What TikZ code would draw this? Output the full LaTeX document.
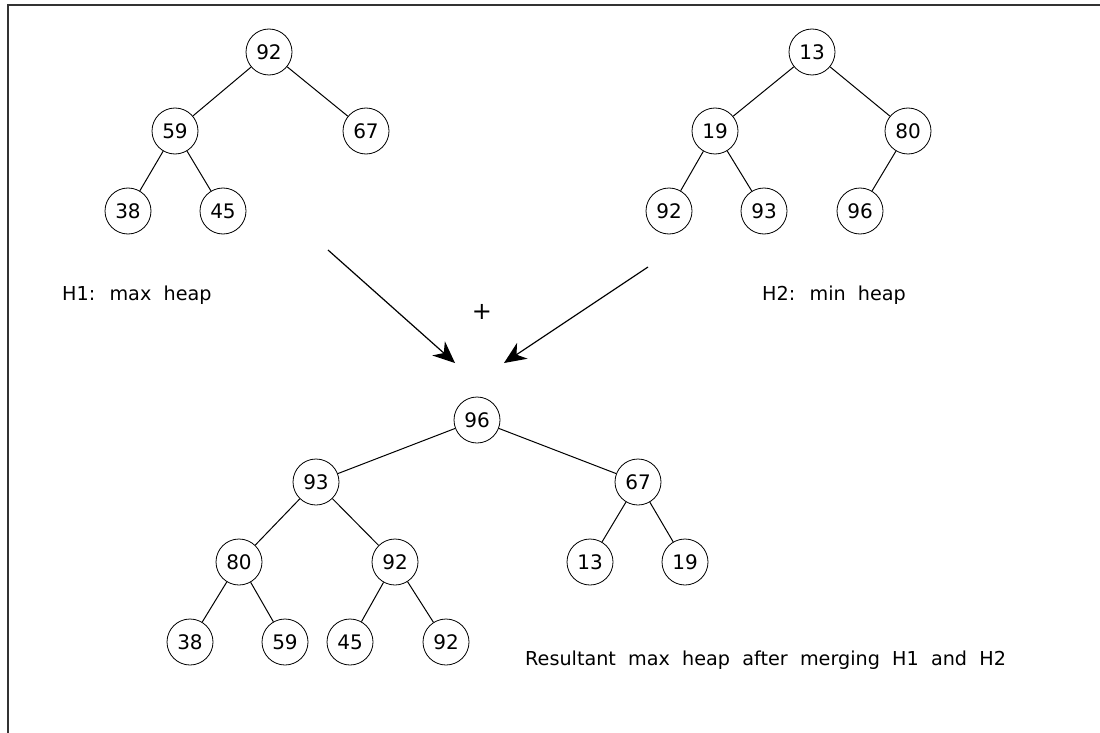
\documentclass[tikz,border=0pt]{standalone}
\usepackage{fontspec}
\setmainfont{DejaVu Sans}
\newfontfamily\labfont[WordSpace=2]{DejaVu Sans}
\usetikzlibrary{arrows.meta}
\begin{document}
\begin{tikzpicture}[x=1pt,y=-1pt,
  hnode/.style={draw, circle, line width=0.8pt, minimum size=46pt, inner sep=0pt, font=\fontsize{20}{22}\selectfont},
  edge/.style={line width=1pt},
  arr/.style={line width=1.2pt, -{Stealth[length=22pt,width=19pt,inset=7pt]}},
  lab/.style={anchor=west, inner sep=0pt, font=\labfont\fontsize{19.2}{21}\selectfont},
  frame/.style={line width=1.6pt, draw=black!80}
]
\useasboundingbox (0,0) rectangle (1100,733);
\draw[frame] (1100,5) -- (8,5) -- (8,733);

% H1
\node[hnode] (a92) at (269,52) {92};
\node[hnode] (a59) at (175,131) {59};
\node[hnode] (a67) at (366,131) {67};
\node[hnode] (a38) at (128,211) {38};
\node[hnode] (a45) at (223,211) {45};
\draw[edge] (a92) -- (a59);
\draw[edge] (a92) -- (a67);
\draw[edge] (a59) -- (a38);
\draw[edge] (a59) -- (a45);

% H2
\node[hnode] (b13) at (812,52) {13};
\node[hnode] (b19) at (715,131) {19};
\node[hnode] (b80) at (908,131) {80};
\node[hnode] (b92) at (669,211) {92};
\node[hnode] (b93) at (764,211) {93};
\node[hnode] (b96) at (860,211) {96};
\draw[edge] (b13) -- (b19);
\draw[edge] (b13) -- (b80);
\draw[edge] (b19) -- (b92);
\draw[edge] (b19) -- (b93);
\draw[edge] (b80) -- (b96);

% labels
\node[lab] (l1) at (62,295) {H1: max heap};
\node[lab] (l2) at (762,295) {H2: min heap};
\node[inner sep=0pt, font=\fontsize{24}{26}\selectfont] (plus) at (482,312) {+};

% arrows
\coordinate (s1) at (328,250);
\coordinate (t1) at (455,363);
\coordinate (s2) at (648,267);
\coordinate (t2) at (504,363);
\draw[arr] (s1) -- (t1);
\draw[arr] (s2) -- (t2);

% result
\node[hnode] (c96) at (477,420) {96};
\node[hnode] (c93) at (316,482) {93};
\node[hnode] (c67) at (638,482) {67};
\node[hnode] (c80) at (239,562) {80};
\node[hnode] (c92) at (395,562) {92};
\node[hnode] (c13) at (590,562) {13};
\node[hnode] (c19) at (685,562) {19};
\node[hnode] (c38) at (190,642) {38};
\node[hnode] (c59) at (285,642) {59};
\node[hnode] (c45) at (350,642) {45};
\node[hnode] (c92b) at (446,642) {92};
\draw[edge] (c96) -- (c93);
\draw[edge] (c96) -- (c67);
\draw[edge] (c93) -- (c80);
\draw[edge] (c93) -- (c92);
\draw[edge] (c67) -- (c13);
\draw[edge] (c67) -- (c19);
\draw[edge] (c80) -- (c38);
\draw[edge] (c80) -- (c59);
\draw[edge] (c92) -- (c45);
\draw[edge] (c92) -- (c92b);

\node[lab] (l3) at (525,660) {Resultant max heap after merging H1 and H2};
\end{tikzpicture}
\end{document}
